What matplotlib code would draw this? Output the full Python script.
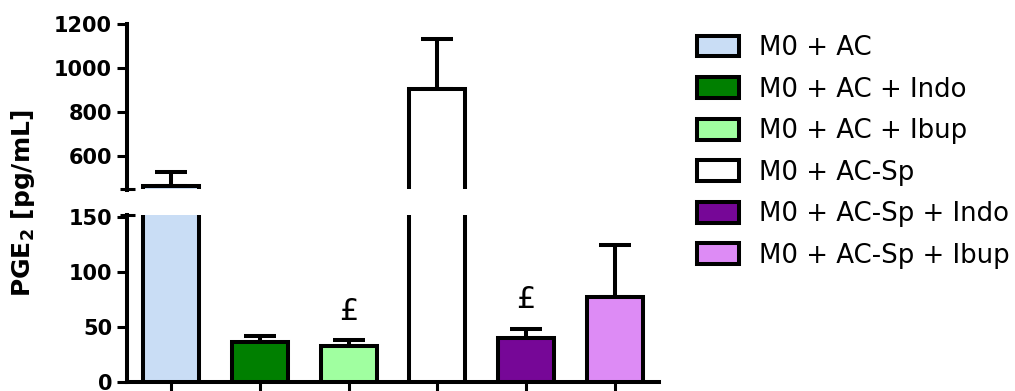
import matplotlib
matplotlib.use("Agg")
import matplotlib.pyplot as plt
from matplotlib.patches import Patch
import numpy as np

# Groups, mean PGE2 concentrations and SEM
groups = ["M0 + AC", "M0 + AC + Indo", "M0 + AC + Ibup",
          "M0 + AC-Sp", "M0 + AC-Sp + Indo", "M0 + AC-Sp + Ibup"]
means = [467, 36, 32.5, 906, 39.5, 77]
sems = [64, 5.5, 5, 228, 8.5, 47]
colors = ["#C9DDF5", "#007F00", "#A0FFA0", "#FFFFFF", "#760797", "#DD8BF5"]
marks = ["", "", "£", "", "£", ""]

lower_ticks = [0, 50, 100, 150]
upper_ticks = [600, 800, 1000, 1200]

plt.rcParams["font.family"] = ["DejaVu Sans"]
plt.rcParams["mathtext.fontset"] = "dejavusans"

W, H = 1015, 391
fig = plt.figure(figsize=(W / 100, H / 100), dpi=100)

LW = 2.9
x0, x1 = 127 / W, 659 / W
ax_lo = fig.add_axes([x0, (H - 381.5) / H, x1 - x0, (381.5 - 215) / H])
ax_hi = fig.add_axes([x0, (H - 189.5) / H, x1 - x0, 165 / H])

x = np.arange(len(groups))
for ax in (ax_lo, ax_hi):
    ax.bar(x, means, width=0.63, color=colors, edgecolor="black",
           linewidth=LW, zorder=3)
    ax.errorbar(x, means, yerr=[np.zeros(len(sems)), sems], fmt="none",
                ecolor="black", elinewidth=LW, capsize=11.5, capthick=LW,
                zorder=2)
    ax.set_xlim(-0.5, 5.5)
    for s in ("top", "right"):
        ax.spines[s].set_visible(False)
    ax.spines["left"].set_linewidth(LW)
    ax.spines["bottom"].set_linewidth(LW)
    ax.tick_params(axis="y", length=7.2, width=2.2, pad=3.5, labelsize=15)

ax_lo.set_ylim(0, 151.5)
ax_lo.set_yticks(lower_ticks)
ax_lo.set_yticklabels([str(t) for t in lower_ticks], fontweight="bold")
ax_lo.set_xticks(x)
ax_lo.set_xticklabels([])
ax_lo.tick_params(axis="x", length=7.2, width=2.2, direction="out")

ax_hi.set_ylim(450, 1200)
ax_hi.set_yticks(upper_ticks)
ax_hi.set_yticklabels([str(t) for t in upper_ticks], fontweight="bold")
ax_hi.spines["bottom"].set_visible(False)
ax_hi.set_xticks([])

# break marks at the two spine ends
dx = 7.5 / (W * (x1 - x0))
ax_hi.plot([-dx, dx], [0, 0], transform=ax_hi.transAxes, color="black",
           lw=2.2, clip_on=False, solid_capstyle="butt")
ax_lo.plot([-dx, dx], [1, 1], transform=ax_lo.transAxes, color="black",
           lw=2.2, clip_on=False, solid_capstyle="butt")

# significance symbols above error caps
for xi, m, s, mk in zip(x, means, sems, marks):
    if mk:
        ax_lo.annotate(mk, (xi, m + s), xytext=(0, 21), textcoords="offset points",
                       ha="center", va="center", fontsize=22)

fig.text(23 / W, 1 - 203 / H, r"PGE$_\mathbf{2}$ [pg/mL]", rotation=90,
         ha="center", va="center", fontsize=18, fontweight="bold")

handles = [Patch(facecolor=c, edgecolor="black", linewidth=LW) for c in colors]
fig.legend(handles, groups, loc="upper left",
           bbox_to_anchor=(697 / W, 1 - 35 / H), frameon=False,
           fontsize=18.7, handlelength=1.6, handleheight=0.86,
           handletextpad=0.78, labelspacing=0.6, borderpad=0,
           borderaxespad=0)

fig.savefig("out.png", dpi=100)
